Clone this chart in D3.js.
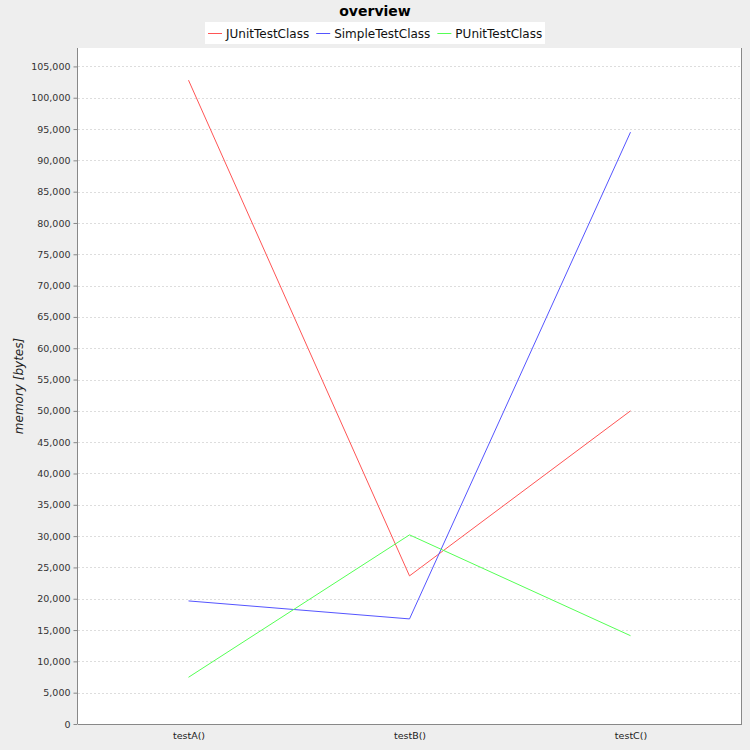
<!DOCTYPE html>
<html><head><meta charset="utf-8">
<script src="https://cdn.jsdelivr.net/npm/d3@7"></script>
<style>body{margin:0;background:#EEEEEE;}svg{display:block;}</style>
</head><body>
<svg id="c" width="750" height="750"></svg>
<script>
const categories = ["testA()", "testB()", "testC()"];
const seriesNames = ["JUnitTestClass", "SimpleTestClass", "PUnitTestClass"];
const junitValues = [102800, 23650, 50000];
const simpleValues = [19650, 16780, 94500];
const punitValues = [7460, 30200, 14100];
const seriesColors = ["#FF5555", "#5555FF", "#55FF55"];
const yTicks = d3.range(0, 105001, 5000);

const series = [junitValues, simpleValues, punitValues];
const svg = d3.select("#c");
const L = 78, R = 741, T = 48, B = 724;

svg.append("rect").attr("width", 750).attr("height", 750).attr("fill", "#EEEEEE");
svg.append("rect").attr("x", L).attr("y", T).attr("width", R - L).attr("height", B - T).attr("fill", "#FFFFFF");

const maxV = d3.max(series.flat());
const y = d3.scaleLinear().domain([0, maxV * 1.05]).range([B, T]);
const x = d3.scalePoint().domain(categories).range([L, R]).padding(0.5);

// gridlines
svg.append("g").selectAll("line").data(yTicks.filter(d => d > 0)).join("line")
  .attr("x1", L).attr("x2", R)
  .attr("y1", d => Math.round(y(d)) + 0.5).attr("y2", d => Math.round(y(d)) + 0.5)
  .attr("stroke", "#DDDDDD").attr("stroke-width", 1).attr("stroke-dasharray", "2,2");

// y axis
const yAxis = d3.axisLeft(y).tickValues(yTicks).tickFormat(d3.format(",")).tickSize(4).tickPadding(3);
const gy = svg.append("g").attr("transform", `translate(${L - 0.5},0)`).call(yAxis);
gy.select(".domain").attr("stroke", "#888888").attr("d", `M0,${T}V${B}`);
gy.selectAll(".tick line").attr("stroke", "#888888");
gy.selectAll("text").attr("font-family", "DejaVu Sans, sans-serif").attr("font-size", "9.5px").attr("fill", "#333333");

// x axis
const xAxis = d3.axisBottom(x).tickSize(0).tickPadding(8);
const gx = svg.append("g").attr("transform", `translate(0,${B + 0.5})`).call(xAxis);
gx.select(".domain").attr("stroke", "#888888").attr("d", `M${L},0H${R}`);
gx.selectAll("text").attr("font-family", "DejaVu Sans, sans-serif").attr("font-size", "9.5px").attr("fill", "#222222");

// right border
svg.append("line").attr("x1", R + 0.5).attr("x2", R + 0.5).attr("y1", T).attr("y2", B + 1).attr("stroke", "#888888");

// lines
const line = d3.line().x((d, i) => x(categories[i])).y(d => y(d));
series.forEach((s, i) => {
  svg.append("path").datum(s).attr("d", line).attr("fill", "none")
    .attr("stroke", seriesColors[i]).attr("stroke-width", 1);
});

// y label
svg.append("text").attr("transform", `translate(23,${(T + B) / 2}) rotate(-90)`)
  .attr("text-anchor", "middle").attr("font-family", "DejaVu Sans, sans-serif")
  .attr("font-style", "italic").attr("font-size", "12px").attr("fill", "#222222")
  .text("memory [bytes]");

// title
svg.append("text").attr("x", 375).attr("y", 16).attr("text-anchor", "middle")
  .attr("font-family", "DejaVu Sans, sans-serif").attr("font-weight", "bold").attr("font-size", "14px")
  .attr("fill", "#000").text("overview");

// legend
const lg = svg.append("g");
lg.append("rect").attr("x", 205).attr("y", 22).attr("width", 340).attr("height", 22).attr("fill", "#FFFFFF");
let lx = 208;
seriesNames.forEach((n, i) => {
  lg.append("line").attr("x1", lx).attr("x2", lx + 14).attr("y1", 33.5).attr("y2", 33.5)
    .attr("stroke", seriesColors[i]).attr("stroke-width", 1);
  const t = lg.append("text").attr("x", lx + 18).attr("y", 38)
    .attr("font-family", "DejaVu Sans, sans-serif").attr("font-size", "12px").attr("fill", "#111").text(n);
  lx += 18 + t.node().getComputedTextLength() + 7;
});
</script>
</body></html>
